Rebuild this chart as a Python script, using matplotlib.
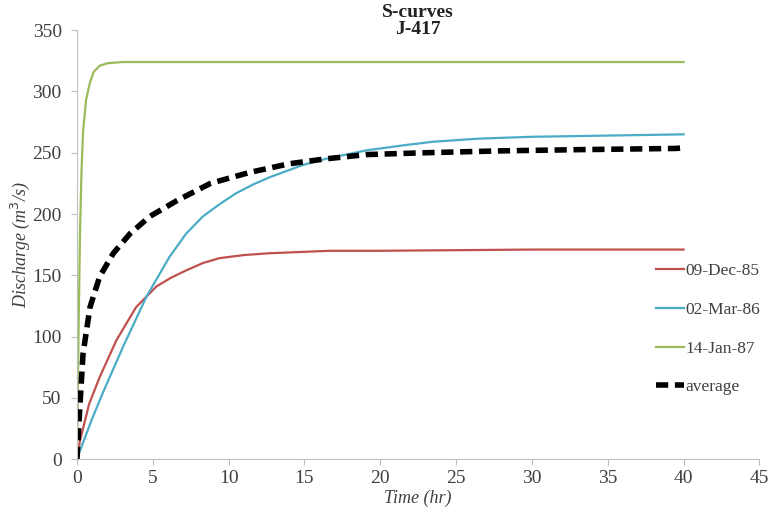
import matplotlib.pyplot as plt

# S-curve data
t_dec85 = [0, 0.2, 0.8, 1.5, 2.6, 3.9, 5.25, 6.2, 7.2, 8.3, 9.4, 11, 12.7, 14.7, 16.7, 20, 25, 30, 40]
q_dec85 = [0, 15, 45, 67, 97, 124, 141, 148, 154, 160, 164, 166.5, 168, 169, 170, 170, 170.5, 171, 171]

t_mar86 = [0, 0.2, 1, 1.7, 3.05, 4.6, 6.1, 7.2, 8.3, 9.4, 10.5, 11.6, 12.7, 13.8, 14.9, 16.4,
           19.1, 21.5, 23.5, 26.5, 30, 35, 40]
q_mar86 = [0, 7, 33, 54, 92, 133, 165, 184, 198, 208, 217, 224, 230, 235, 240, 245,
           252, 256, 259, 261.5, 263, 264, 265]

t_jan87 = [0, 0.1, 0.2, 0.3, 0.4, 0.6, 0.85, 1.1, 1.5, 2, 3, 40]
q_jan87 = [0, 100, 185, 235, 267, 293, 307, 316, 321, 323, 324, 324]

t_avg = [0, 0.2, 0.4, 0.86, 1.5, 2.4, 3.5, 4.8, 6.6, 8.8, 11.4, 14, 16.4, 19.1, 23, 27.9, 33, 39.5, 40]
q_avg = [0, 45, 86, 124, 149, 168, 184, 198, 211, 225, 234, 241, 245, 248.5, 250, 251.5, 252.5, 253.5, 254]

labels = ['09-Dec-85', '02-Mar-86', '14-Jan-87', 'average']

plt.rcParams['font.family'] = ['Liberation Serif', 'DejaVu Serif']

fig = plt.figure(figsize=(7.72, 5.2), dpi=100)
ax = fig.add_axes([0.0997, 0.117, 0.884, 0.825])

ax.plot(t_dec85, q_dec85, color='#C0504D', lw=1.6, label=labels[0])
ax.plot(t_mar86, q_mar86, color='#4BACC6', lw=1.6, label=labels[1])
ax.plot(t_jan87, q_jan87, color='#9BBB59', lw=1.6, label=labels[2])
ax.plot(t_avg, q_avg, color='black', lw=4, dashes=(2.2, 1.2), label=labels[3])

ax.set_xlim(0, 45)
ax.set_ylim(0, 350)
ax.set_xticks(range(0, 46, 5))
ax.set_yticks(range(0, 351, 50))

for s in ['top', 'right']:
    ax.spines[s].set_visible(False)
for s in ['left', 'bottom']:
    ax.spines[s].set_color('#BFBFBF')
ax.tick_params(axis='both', colors='#BFBFBF', labelcolor='#404040', labelsize=14, length=4)
ax.tick_params(axis='y', pad=7)

ax.set_xlabel('Time (hr)', fontstyle='italic', fontsize=13, color='#404040', labelpad=2)
ax.set_ylabel('Discharge (m$^3$/s)', fontstyle='italic', fontsize=13, color='#404040', labelpad=0)
fig.text(0.541, 0.993, 'S-curves\nJ-417', ha='center', va='top', fontweight='bold',
         fontsize=14, color='#222222', linespacing=1.05)

ax.legend(loc='center left', bbox_to_anchor=(0.826, 0.303), frameon=False, fontsize=12.5,
          handlelength=1.6, handletextpad=0.1, labelspacing=1.3, labelcolor='#404040')

fig.savefig('out.png', dpi=100)
